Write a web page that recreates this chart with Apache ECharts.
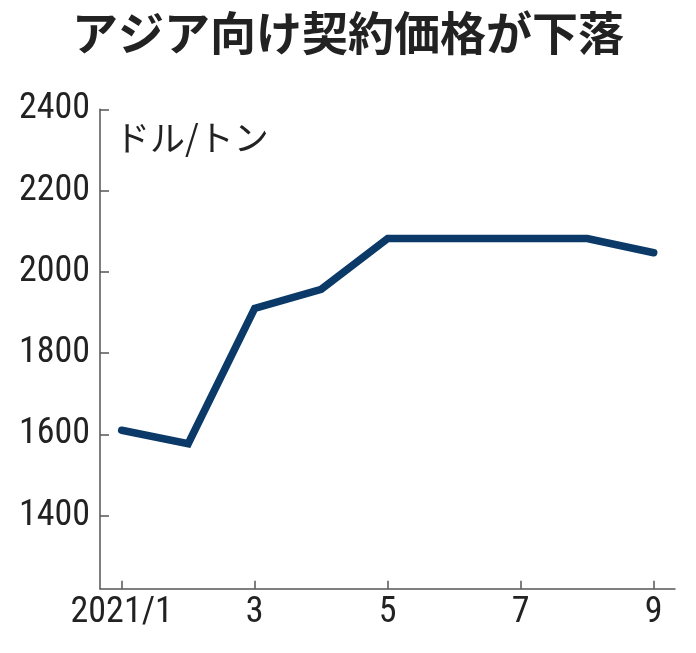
<!DOCTYPE html>
<html>
<head>
<meta charset="utf-8">
<script src="https://cdn.jsdelivr.net/npm/echarts@6/dist/echarts.min.js"></script>
<style>html,body{margin:0;padding:0;background:#fff;}#c{width:696px;height:653px;}</style>
</head>
<body>
<div id="c"></div>
<script>
const title = 'アジア向け契約価格が下落';
const unitLabel = 'ドル/トン';
const months = [1, 2, 3, 4, 5, 6, 7, 8, 9];
const prices = [1610, 1577, 1910, 1957, 2082, 2082, 2082, 2082, 2047];
const xTickValues = [1, 3, 5, 7, 9];
const yTickValues = [1400, 1600, 1800, 2000, 2200, 2400];
const firstLabel = '2021/1';

const chart = echarts.init(document.getElementById('c'), null, {renderer: 'canvas'});
const labelFont = "'Liberation Sans Narrow', 'Roboto Condensed', 'DejaVu Sans Condensed', sans-serif";
const axisColor = '#555';
chart.setOption({
  animation: false,
  backgroundColor: '#fff',
  grid: {left: 100, right: 21, top: 109.3, bottom: 64.3},
  graphic: [
    {type: 'text', left: 'center', top: 10, style: {text: title, font: "bold 46px 'Noto Sans CJK JP'", fill: '#222'}},
    {type: 'text', left: 115, top: 120, style: {text: unitLabel, font: "35px 'Noto Sans CJK JP'", fill: '#222'}}
  ],
  xAxis: {
    type: 'value', min: 0.674, max: 9.32,
    axisLine: {show: true, lineStyle: {color: axisColor, width: 1.5}},
    axisTick: {show: true, inside: true, length: 8, customValues: xTickValues, lineStyle: {color: axisColor, width: 1.5}},
    axisLabel: {customValues: xTickValues, margin: 6, fontSize: 36, fontFamily: labelFont, color: '#222',
      formatter: v => v === 1 ? firstLabel : String(v)},
    splitLine: {show: false}
  },
  yAxis: {
    type: 'value', min: 1220, max: 2400,
    axisLine: {show: true, lineStyle: {color: axisColor, width: 1.5}},
    axisTick: {show: true, inside: true, length: 9, customValues: yTickValues, lineStyle: {color: axisColor, width: 1.5}},
    axisLabel: {customValues: yTickValues, margin: 10, fontSize: 36, fontFamily: labelFont, color: '#222',
      formatter: v => String(v)},
    splitLine: {show: false}
  },
  series: [{
    type: 'line',
    data: months.map((m, i) => [m, prices[i]]),
    showSymbol: false,
    lineStyle: {color: '#0b3a68', width: 7.5, cap: 'round', join: 'miter'}
  }]
});
</script>
</body>
</html>
